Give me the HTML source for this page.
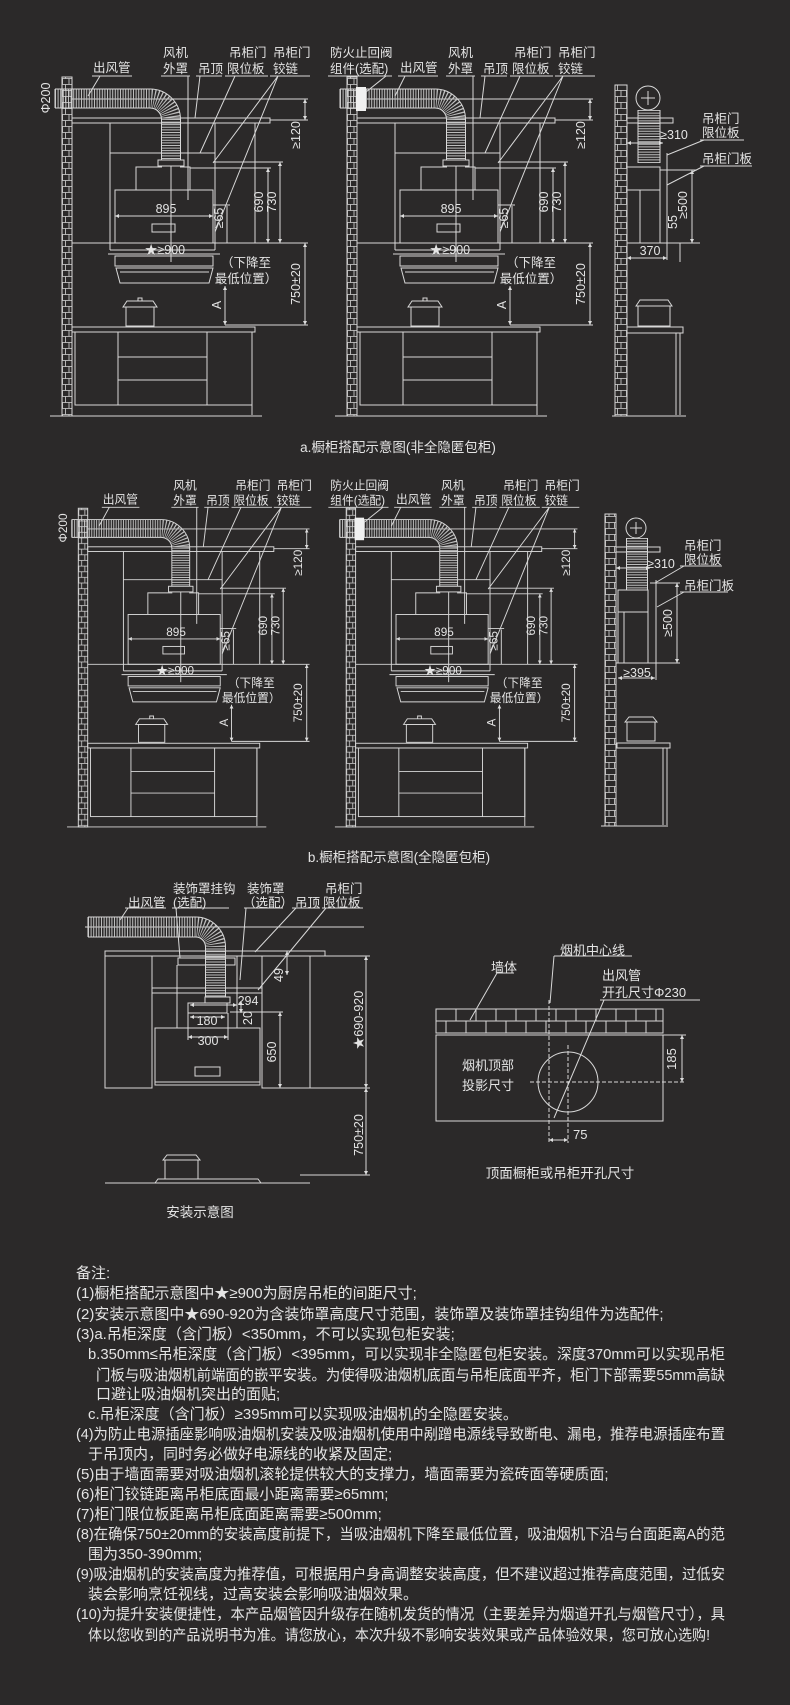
<!DOCTYPE html>
<html><head><meta charset="utf-8">
<style>
html,body{margin:0;padding:0;background:#2b2929;}
svg{display:block;}
text{font-family:"Liberation Sans","Noto Sans CJK SC",sans-serif;fill:#e4e4e4;}
</style></head>
<body>
<svg width="790" height="1705" viewBox="0 0 790 1705" xmlns="http://www.w3.org/2000/svg">
<defs>
<pattern id="brick" patternUnits="userSpaceOnUse" x="0" y="0" width="12" height="12">
<path d="M0 0.5H12 M0 6.5H12 M5.5 0.5V6.5 M2.5 6.5V12.5 M9 6.5V12.5" stroke="#d8d8d8" stroke-width="0.8" fill="none"/>
</pattern>
<marker id="m" viewBox="0 0 6 6" refX="6" refY="3" markerWidth="4" markerHeight="4" orient="auto-start-reverse"><path d="M0 0L6 3L0 6z" fill="#ddd"/></marker>
<g id="A" fill="none" stroke="#d8d8d8" stroke-width="1">
<line x1="72" y1="99" x2="308" y2="99"/>
<rect x="72" y="118" width="198" height="5"/>
<line x1="270" y1="120" x2="308" y2="120"/>
<path d="M55 98.5H150A21 21 0 0 1 171 119.5V160" stroke="#bdbdbd" stroke-width="19" stroke-dasharray="1 1.6"/>
<path d="M55 89H150A30.5 30.5 0 0 1 180.5 119.5V160 M55 108H150A11.5 11.5 0 0 1 161.5 119.5V160 M55 89V108"/>
<rect x="158" y="160" width="26" height="6" fill="#2b2929"/>
<path d="M110 123V250 M215 123V250 M255 123V243 M110 153H215 M110 250H215"/>
<path d="M136 190V167H162 M180 167H190V190"/>
<rect x="115" y="190" width="98" height="53"/>
<line x1="115" y1="216" x2="213" y2="216" marker-start="url(#m)" marker-end="url(#m)"/>
<rect x="152" y="224" width="23" height="8"/>
<line x1="72" y1="243" x2="308" y2="243"/>
<line x1="108" y1="254" x2="220" y2="254"/>
<rect x="115" y="256" width="98" height="10"/>
<path d="M116 268H213L209 283H120Z M120 272H209"/>
<line x1="171" y1="166" x2="171" y2="262"/>
<line x1="268" y1="168" x2="268" y2="243" marker-start="url(#m)" marker-end="url(#m)"/>
<line x1="280" y1="162" x2="280" y2="243" marker-start="url(#m)" marker-end="url(#m)"/>
<path d="M190 168H271 M213 162H283 M213 205H230"/>
<line x1="227" y1="206" x2="227" y2="243"/>
<line x1="225" y1="286" x2="225" y2="325" marker-start="url(#m)" marker-end="url(#m)"/>
<line x1="305" y1="243" x2="305" y2="325" marker-start="url(#m)" marker-end="url(#m)"/>
<line x1="305" y1="99" x2="305" y2="120" marker-start="url(#m)" marker-end="url(#m)"/>
<line x1="225" y1="325" x2="308" y2="325"/>
<rect x="126" y="307" width="28" height="19"/>
<path d="M123 307L127 301H153L157 307Z M138 301V298H142V301"/>
<rect x="72" y="327" width="183" height="5"/>
<rect x="75" y="332" width="177" height="73"/>
<path d="M118 332V405 M207 332V405 M118 357H207 M118 380H207 M252 332V415"/>
<line x1="50" y1="416" x2="262" y2="416"/>
<rect x="62" y="77" width="10" height="339" fill="url(#brick)"/>
</g>
</defs>

<!-- ROW A -->
<use href="#A"/>
<use href="#A" x="285"/>
<g font-size="12.5" stroke="none">
<text x="93" y="72">出风管</text>
<text x="163" y="57">风机</text><text x="163" y="73">外罩</text>
<text x="198" y="73">吊顶</text>
<text x="229" y="57">吊柜门</text><text x="227" y="73">限位板</text>
<text x="273" y="57">吊柜门</text><text x="273" y="73">铰链</text>
<text transform="translate(50,98) rotate(-90)" text-anchor="middle">Φ200</text>
<text transform="translate(300,135) rotate(-90)" text-anchor="middle">≥120</text>
<text x="166" y="213" text-anchor="middle">895</text>
<text transform="translate(223,218) rotate(-90)" text-anchor="middle">≥65</text>
<text transform="translate(263,202) rotate(-90)" text-anchor="middle">690</text>
<text transform="translate(276,202) rotate(-90)" text-anchor="middle">730</text>
<text x="165" y="254" text-anchor="middle">★≥900</text>
<text x="246" y="267" text-anchor="middle">（下降至</text>
<text x="246" y="283" text-anchor="middle">最低位置）</text>
<text transform="translate(221,305) rotate(-90)" text-anchor="middle">A</text>
<text transform="translate(300,284) rotate(-90)" text-anchor="middle">750±20</text>
</g>
<g fill="none" stroke="#d8d8d8" stroke-width="1">
<path d="M92 76H132 M100 76L88 96 M161 76H190 M188 76V200 M196 76H222 M200 76L195 118 M225 76H268 M235 76L200 153 M270 76H310 M278 76L213 163 M278 76L215 232"/>
</g>
<g transform="translate(285,0)">
<g font-size="12.5" stroke="none">
<text x="163" y="57">风机</text><text x="163" y="73">外罩</text>
<text x="198" y="73">吊顶</text>
<text x="229" y="57">吊柜门</text><text x="227" y="73">限位板</text>
<text x="273" y="57">吊柜门</text><text x="273" y="73">铰链</text>
<text transform="translate(300,135) rotate(-90)" text-anchor="middle">≥120</text>
<text x="166" y="213" text-anchor="middle">895</text>
<text transform="translate(223,218) rotate(-90)" text-anchor="middle">≥65</text>
<text transform="translate(263,202) rotate(-90)" text-anchor="middle">690</text>
<text transform="translate(276,202) rotate(-90)" text-anchor="middle">730</text>
<text x="165" y="254" text-anchor="middle">★≥900</text>
<text x="246" y="267" text-anchor="middle">（下降至</text>
<text x="246" y="283" text-anchor="middle">最低位置）</text>
<text transform="translate(221,305) rotate(-90)" text-anchor="middle">A</text>
<text transform="translate(300,284) rotate(-90)" text-anchor="middle">750±20</text>
</g>
<g fill="none" stroke="#d8d8d8" stroke-width="1">
<path d="M161 76H190 M188 76V200 M196 76H222 M200 76L195 118 M225 76H268 M235 76L200 153 M270 76H310 M278 76L213 163 M278 76L215 232"/>
</g>
</g>
<g font-size="12.5" stroke="none">
<text x="330" y="57">防火止回阀</text><text x="330" y="73">组件(选配)</text>
<text x="400" y="72">出风管</text>
</g>
<rect x="356" y="87" width="10" height="24" fill="#f0f0f0"/>
<path d="M328 76H392 M386 76L366 92 M398 76H438 M405 76L395 96" fill="none" stroke="#d8d8d8"/>

<!-- side view a -->
<g fill="none" stroke="#d8d8d8" stroke-width="1">
<circle cx="648" cy="98" r="12"/><path d="M641 98H655 M648 91V105"/>
<path d="M649 110V163" stroke="#bdbdbd" stroke-width="22" stroke-dasharray="1 1.6"/>
<path d="M638 110V163 M660 110V163"/>
<rect x="627" y="118" width="46" height="5"/>
<line x1="627" y1="143" x2="663" y2="143" marker-start="url(#m)" marker-end="url(#m)"/>
<rect x="627" y="167" width="33" height="76"/>
<path d="M627 190H660 M640 190V243"/>
<line x1="667" y1="153" x2="667" y2="260"/>
<path d="M627 243H700 M660 170H697"/>
<line x1="692" y1="170" x2="692" y2="243" marker-start="url(#m)" marker-end="url(#m)"/>
<line x1="680" y1="243" x2="680" y2="262"/>
<line x1="627" y1="258" x2="667" y2="258" marker-start="url(#m)" marker-end="url(#m)"/>
<rect x="638" y="306" width="32" height="20"/>
<path d="M636 306L640 300H668L672 306Z"/>
<rect x="627" y="327" width="56" height="6"/>
<path d="M680 333V415 M676 333V415"/>
<line x1="612" y1="416" x2="686" y2="416"/>
<path d="M700 140H744 M704 140L667 155 M700 166H752 M704 166L667 185"/>
<rect x="615" y="85" width="12" height="331" fill="url(#brick)"/>
</g>
<g font-size="12.5">
<text x="702" y="123">吊柜门</text><text x="702" y="137">限位板</text>
<text x="702" y="163">吊柜门板</text>
<text x="674" y="139" text-anchor="middle">≥310</text>
<text transform="translate(687,205) rotate(-90)" text-anchor="middle">≥500</text>
<text transform="translate(677,222) rotate(-90)" text-anchor="middle">55</text>
<text x="650" y="255" text-anchor="middle">370</text>
</g>
<text x="398" y="452" font-size="13.5" text-anchor="middle">a.橱柜搭配示意图(非全隐匿包柜)</text>

<!-- ROW B -->
<g transform="translate(83,528) scale(0.94) translate(-67,-98)">
<use href="#A"/>
<use href="#A" x="285"/>
<g font-size="12.5" stroke="none">
<text x="88" y="72">出风管</text>
<text x="163" y="57">风机</text><text x="163" y="73">外罩</text>
<text x="198" y="73">吊顶</text>
<text x="229" y="57">吊柜门</text><text x="227" y="73">限位板</text>
<text x="273" y="57">吊柜门</text><text x="273" y="73">铰链</text>
<text transform="translate(50,98) rotate(-90)" text-anchor="middle">Φ200</text>
<text transform="translate(300,135) rotate(-90)" text-anchor="middle">≥120</text>
<text x="166" y="213" text-anchor="middle">895</text>
<text transform="translate(223,218) rotate(-90)" text-anchor="middle">≥65</text>
<text transform="translate(263,202) rotate(-90)" text-anchor="middle">690</text>
<text transform="translate(276,202) rotate(-90)" text-anchor="middle">730</text>
<text x="165" y="254" text-anchor="middle">★≥900</text>
<text x="246" y="267" text-anchor="middle">（下降至</text>
<text x="246" y="283" text-anchor="middle">最低位置）</text>
<text transform="translate(221,305) rotate(-90)" text-anchor="middle">A</text>
<text transform="translate(300,284) rotate(-90)" text-anchor="middle">750±20</text>
</g>
<path d="M87 76H127 M95 76L84 96 M161 76H190 M188 76V200 M196 76H222 M200 76L195 118 M225 76H268 M235 76L200 153 M270 76H310 M278 76L213 163 M278 76L215 232" fill="none" stroke="#d8d8d8"/>
<g transform="translate(285,0)">
<g font-size="12.5" stroke="none">
<text x="163" y="57">风机</text><text x="163" y="73">外罩</text>
<text x="198" y="73">吊顶</text>
<text x="229" y="57">吊柜门</text><text x="227" y="73">限位板</text>
<text x="273" y="57">吊柜门</text><text x="273" y="73">铰链</text>
<text transform="translate(300,135) rotate(-90)" text-anchor="middle">≥120</text>
<text x="166" y="213" text-anchor="middle">895</text>
<text transform="translate(223,218) rotate(-90)" text-anchor="middle">≥65</text>
<text transform="translate(263,202) rotate(-90)" text-anchor="middle">690</text>
<text transform="translate(276,202) rotate(-90)" text-anchor="middle">730</text>
<text x="165" y="254" text-anchor="middle">★≥900</text>
<text x="246" y="267" text-anchor="middle">（下降至</text>
<text x="246" y="283" text-anchor="middle">最低位置）</text>
<text transform="translate(221,305) rotate(-90)" text-anchor="middle">A</text>
<text transform="translate(300,284) rotate(-90)" text-anchor="middle">750±20</text>
</g>
<path d="M161 76H190 M188 76V200 M196 76H222 M200 76L195 118 M225 76H268 M235 76L200 153 M270 76H310 M278 76L213 163 M278 76L215 232" fill="none" stroke="#d8d8d8"/>
</g>
<g font-size="12.5" stroke="none">
<text x="330" y="57">防火止回阀</text><text x="330" y="73">组件(选配)</text>
<text x="400" y="72">出风管</text>
</g>
<rect x="356" y="87" width="10" height="24" fill="#f0f0f0"/>
<path d="M328 76H392 M386 76L366 92 M398 76H438 M405 76L395 96" fill="none" stroke="#d8d8d8"/>
</g>

<!-- side view b -->
<g fill="none" stroke="#d8d8d8" stroke-width="1">
<circle cx="636" cy="528" r="10"/><path d="M630 528H642 M636 522V534"/>
<path d="M637 538V590" stroke="#bdbdbd" stroke-width="21" stroke-dasharray="1 1.6"/>
<path d="M626.5 538V590 M647.5 538V590"/>
<rect x="616" y="547" width="44" height="5"/>
<line x1="616" y1="568" x2="650" y2="568" marker-start="url(#m)" marker-end="url(#m)"/>
<path d="M650 583H680 M616 663H680"/>
<rect x="618" y="590" width="30" height="73"/>
<path d="M618 612H648 M624 612V663"/>
<line x1="656" y1="580" x2="656" y2="680"/>
<line x1="677" y1="583" x2="677" y2="663" marker-start="url(#m)" marker-end="url(#m)"/>
<line x1="618" y1="678" x2="655" y2="678" marker-start="url(#m)" marker-end="url(#m)"/>
<rect x="627" y="722" width="28" height="19"/>
<path d="M625 722L629 717H653L657 722Z"/>
<rect x="617" y="743" width="53" height="5"/>
<path d="M667 748V825 M663 748V825"/>
<line x1="601" y1="826" x2="668" y2="826"/>
<path d="M680 566H722 M684 566L655 583 M680 592H728 M684 592L657 607"/>
<rect x="605" y="514" width="11" height="312" fill="url(#brick)"/>
</g>
<g font-size="12.5">
<text x="684" y="550">吊柜门</text><text x="684" y="564">限位板</text>
<text x="684" y="590">吊柜门板</text>
<text x="661" y="568" text-anchor="middle">≥310</text>
<text transform="translate(672,623) rotate(-90)" text-anchor="middle">≥500</text>
<text x="637" y="677" text-anchor="middle">≥395</text>
</g>
<text x="399" y="862" font-size="13.5" text-anchor="middle">b.橱柜搭配示意图(全隐匿包柜)</text>

<!-- INSTALL DIAGRAM -->
<g fill="none" stroke="#d8d8d8" stroke-width="1">
<line x1="85" y1="927" x2="364" y2="927"/>
<path d="M88 927H195A20 20 0 0 1 215.5 947V998" stroke="#bdbdbd" stroke-width="20" stroke-dasharray="1 1.6"/>
<path d="M88 917H195A30 30 0 0 1 225.5 947V998 M88 937H195A10 10 0 0 1 205.5 947V998 M88 917V937"/>
<rect x="105" y="951" width="220" height="5"/>
<rect x="105" y="956" width="47" height="132"/>
<rect x="262" y="956" width="48" height="132"/>
<rect x="178" y="958" width="57" height="7"/>
<path d="M177 965V1028 M237 956V1028 M152 988H262 M152 993H262"/>
<rect x="205" y="997" width="25" height="6" fill="#2b2929"/>
<rect x="188" y="1003" width="39" height="10"/>
<line x1="190" y1="1017" x2="225" y2="1017" marker-start="url(#m)" marker-end="url(#m)"/>
<line x1="188" y1="1037" x2="228" y2="1037" marker-start="url(#m)" marker-end="url(#m)"/>
<path d="M188 1013V1040 M228 1013V1040"/>
<rect x="155" y="1028" width="105" height="57"/>
<line x1="155" y1="1082" x2="260" y2="1082"/>
<rect x="195" y="1067" width="25" height="9"/>
<line x1="190" y1="1005" x2="237" y2="1005" marker-start="url(#m)" marker-end="url(#m)"/>
<line x1="287" y1="951" x2="287" y2="975" marker-start="url(#m)" marker-end="url(#m)"/>
<line x1="241" y1="1001" x2="241" y2="1013" marker-start="url(#m)" marker-end="url(#m)"/>
<path d="M230 1012H283"/>
<line x1="280" y1="1012" x2="280" y2="1088" marker-start="url(#m)" marker-end="url(#m)"/>
<path d="M310 956H370 M310 1088H370 M300 1175H370"/>
<line x1="366" y1="956" x2="366" y2="1088" marker-start="url(#m)" marker-end="url(#m)"/>
<line x1="366" y1="1088" x2="366" y2="1175" marker-start="url(#m)" marker-end="url(#m)"/>
<line x1="105" y1="1183" x2="310" y2="1183"/>
<path d="M155 1183L158 1179H258L261 1183"/>
<rect x="165" y="1160" width="33" height="19"/>
<path d="M163 1160L167 1155H196L200 1160Z"/>
<path d="M125 908H166 M128 908L120 920 M172 908H229 M176 908L180 958 M244 908H283 M246 908L240 980 M292 908H320 M296 908L255 952 M322 908H363 M326 908L258 990"/>
</g>
<g font-size="12.5">
<text x="128" y="907">出风管</text>
<text x="173" y="893">装饰罩挂钩</text><text x="173" y="907">(选配)</text>
<text x="247" y="893">装饰罩</text><text x="243" y="907">（选配）</text>
<text x="295" y="907">吊顶</text>
<text x="325" y="893">吊柜门</text><text x="323" y="907">限位板</text>
<text x="248" y="1005" text-anchor="middle">294</text>
<text transform="translate(283,975) rotate(-90)" text-anchor="middle">49</text>
<text x="207" y="1025" text-anchor="middle">180</text>
<text x="208" y="1045" text-anchor="middle">300</text>
<text transform="translate(252,1018) rotate(-90)" text-anchor="middle">20</text>
<text transform="translate(276,1052) rotate(-90)" text-anchor="middle">650</text>
<text transform="translate(363,1020) rotate(-90)" text-anchor="middle">★690-920</text>
<text transform="translate(363,1135) rotate(-90)" text-anchor="middle">750±20</text>
</g>
<text x="200" y="1217" font-size="13.5" text-anchor="middle">安装示意图</text>

<!-- HOLE DIAGRAM -->
<g fill="none" stroke="#d8d8d8" stroke-width="1">
<rect x="436" y="1009" width="227" height="24"/>
<path d="M436 1021H663 M436 1035H663"/>
<path d="M456 1009V1021 M476 1009V1021 M496 1009V1021 M516 1009V1021 M536 1009V1021 M556 1009V1021 M576 1009V1021 M596 1009V1021 M616 1009V1021 M636 1009V1021 M656 1009V1021 M446 1021V1033 M466 1021V1033 M486 1021V1033 M506 1021V1033 M526 1021V1033 M546 1021V1033 M566 1021V1033 M586 1021V1033 M606 1021V1033 M626 1021V1033 M646 1021V1033"/>
<rect x="436" y="1035" width="227" height="86"/>
<circle cx="568" cy="1082" r="30"/>
<line x1="549" y1="1000" x2="549" y2="1143" stroke-dasharray="4 2"/>
<line x1="568" y1="1045" x2="568" y2="1143" stroke-dasharray="4 2"/>
<line x1="530" y1="1082" x2="686" y2="1082" stroke-dasharray="4 2"/>
<path d="M663 1035H686"/>
<line x1="682" y1="1035" x2="682" y2="1082" marker-start="url(#m)" marker-end="url(#m)"/>
<line x1="549" y1="1140" x2="568" y2="1140" marker-start="url(#m)" marker-end="url(#m)"/>
<path d="M497 973H514 M497 973L470 1020 M554 956H632 M554 956L550 1003 M600 1000H700 M604 1000L554 1118"/>
</g>
<g font-size="13">
<text x="491" y="972">墙体</text>
<text x="560" y="955">烟机中心线</text>
<text x="602" y="980">出风管</text>
<text x="602" y="997">开孔尺寸Φ230</text>
<text x="462" y="1070">烟机顶部</text>
<text x="462" y="1090">投影尺寸</text>
<text x="573" y="1139">75</text>
<text transform="translate(676,1059) rotate(-90)" text-anchor="middle">185</text>
</g>
<text x="560" y="1178" font-size="13.5" text-anchor="middle">顶面橱柜或吊柜开孔尺寸</text>

<!-- NOTES -->
<g font-size="15">
<text x="76" y="1278">备注:</text>
<text x="76" y="1298">(1)橱柜搭配示意图中★≥900为厨房吊柜的间距尺寸;</text>
<text x="76" y="1319">(2)安装示意图中★690-920为含装饰罩高度尺寸范围，装饰罩及装饰罩挂钩组件为选配件;</text>
<text x="76" y="1339">(3)a.吊柜深度（含门板）&lt;350mm，不可以实现包柜安装;</text>
<text x="88" y="1359" textLength="637" lengthAdjust="spacingAndGlyphs">b.350mm≤吊柜深度（含门板）&lt;395mm，可以实现非全隐匿包柜安装。深度370mm可以实现吊柜</text>
<text x="96" y="1380" textLength="629" lengthAdjust="spacingAndGlyphs">门板与吸油烟机前端面的嵌平安装。为使得吸油烟机底面与吊柜底面平齐，柜门下部需要55mm高缺</text>
<text x="96" y="1399">口避让吸油烟机突出的面贴;</text>
<text x="88" y="1419">c.吊柜深度（含门板）≥395mm可以实现吸油烟机的全隐匿安装。</text>
<text x="76" y="1439" textLength="649" lengthAdjust="spacingAndGlyphs">(4)为防止电源插座影响吸油烟机安装及吸油烟机使用中剐蹭电源线导致断电、漏电，推荐电源插座布置</text>
<text x="88" y="1459">于吊顶内，同时务必做好电源线的收紧及固定;</text>
<text x="76" y="1479">(5)由于墙面需要对吸油烟机滚轮提供较大的支撑力，墙面需要为瓷砖面等硬质面;</text>
<text x="76" y="1499">(6)柜门铰链距离吊柜底面最小距离需要≥65mm;</text>
<text x="76" y="1519">(7)柜门限位板距离吊柜底面距离需要≥500mm;</text>
<text x="76" y="1539" textLength="649" lengthAdjust="spacingAndGlyphs">(8)在确保750±20mm的安装高度前提下，当吸油烟机下降至最低位置，吸油烟机下沿与台面距离A的范</text>
<text x="88" y="1559">围为350-390mm;</text>
<text x="76" y="1579" textLength="649" lengthAdjust="spacingAndGlyphs">(9)吸油烟机的安装高度为推荐值，可根据用户身高调整安装高度，但不建议超过推荐高度范围，过低安</text>
<text x="88" y="1599">装会影响烹饪视线，过高安装会影响吸油烟效果。</text>
<text x="76" y="1619" textLength="649" lengthAdjust="spacingAndGlyphs">(10)为提升安装便捷性，本产品烟管因升级存在随机发货的情况（主要差异为烟道开孔与烟管尺寸），具</text>
<text x="88" y="1640" textLength="622" lengthAdjust="spacingAndGlyphs">体以您收到的产品说明书为准。请您放心，本次升级不影响安装效果或产品体验效果，您可放心选购!</text>
</g>
</svg>
</body></html>
